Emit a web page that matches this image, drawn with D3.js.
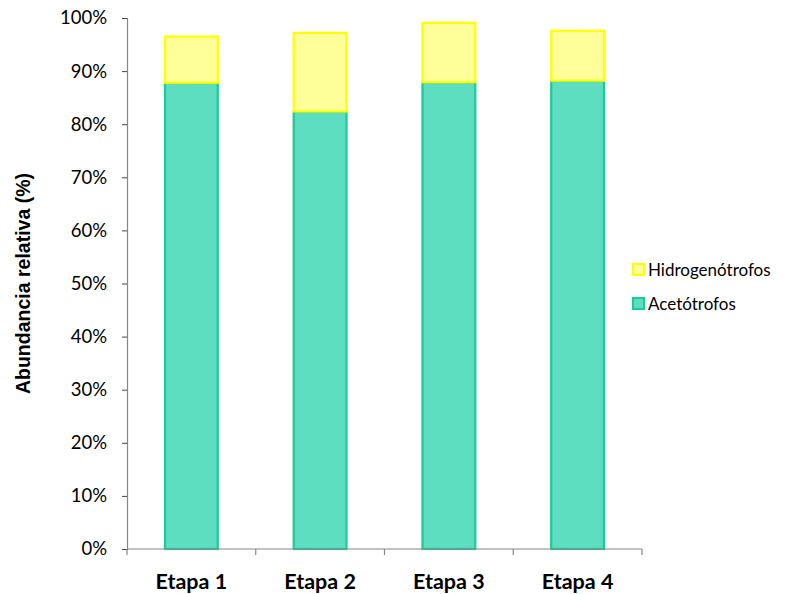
<!DOCTYPE html>
<html>
<head>
<meta charset="utf-8">
<script src="https://cdn.jsdelivr.net/npm/d3@7"></script>
<style>
  html, body { margin: 0; padding: 0; background: #fff; }
  svg { display: block; font-family: Lato, "Open Sans", sans-serif; }
</style>
</head>
<body>
<svg id="chart" width="802" height="594"></svg>
<script>
// Etapas del reactor y abundancia relativa (%) de cada grupo metanogénico
const etapas = ["Etapa 1", "Etapa 2", "Etapa 3", "Etapa 4"];
const acetotrofos = [87.8, 82.4, 87.9, 88.2];
const hidrogenotrofos = [8.7, 14.8, 11.2, 9.4];
const yTicks = [0, 10, 20, 30, 40, 50, 60, 70, 80, 90, 100];
const seriesNames = ["Acetótrofos", "Hidrogenótrofos"];
const fills = { "Acetótrofos": "#5EDEC0", "Hidrogenótrofos": "#FFFF99" };
const strokes = { "Acetótrofos": "#17CC95", "Hidrogenótrofos": "#FFFF00" };

const svg = d3.select("#chart");
const left = 127, right = 642;

const x = d3.scaleBand().domain(etapas).range([left, right]).paddingInner(0.59).paddingOuter(0.295);
const y = d3.scaleLinear().domain([0, 100]).range([549, 18]);

const rows = etapas.map((e, i) => ({ etapa: e, "Acetótrofos": acetotrofos[i], "Hidrogenótrofos": hidrogenotrofos[i] }));
const stacked = d3.stack().keys(seriesNames)(rows);

// Barras apiladas
svg.append("g").selectAll("g").data(stacked).join("g")
  .attr("fill", d => fills[d.key])
  .attr("stroke", d => strokes[d.key])
  .attr("stroke-width", 2.2)
  .selectAll("rect").data(d => d).join("rect")
  .attr("x", d => x(d.data.etapa))
  .attr("y", d => y(d[1]))
  .attr("width", x.bandwidth())
  .attr("height", d => y(d[0]) - y(d[1]));

// Eje Y
const yAxis = svg.append("g").attr("transform", `translate(${left},0)`)
  .call(d3.axisLeft(y).tickValues(yTicks).tickFormat(d => d + "%").tickSize(5).tickPadding(15));
yAxis.select(".domain").attr("stroke", "#868686").attr("stroke-width", 1.2);
yAxis.selectAll(".tick line").attr("stroke", "#444");
yAxis.selectAll("text").attr("font-size", 18.5).attr("fill", "#000")
  .attr("font-family", "Lato, 'Open Sans', sans-serif");

// Eje X con marcas en los límites de cada categoría
const xAxis = svg.append("g").attr("transform", `translate(0,${y(0)})`);
xAxis.append("line").attr("x1", left).attr("x2", right).attr("y1", 0).attr("y2", 0)
  .attr("stroke", "#868686").attr("stroke-width", 1.2);
const bounds = d3.range(etapas.length + 1).map(i => left + i * (right - left) / etapas.length);
xAxis.selectAll("line.tk").data(bounds).join("line").attr("class", "tk")
  .attr("x1", d => d).attr("x2", d => d).attr("y1", 0).attr("y2", 6)
  .attr("stroke", "#868686").attr("stroke-width", 1.2);
xAxis.selectAll("text").data(etapas).join("text")
  .attr("x", d => x(d) + x.bandwidth() / 2)
  .attr("y", 40)
  .attr("text-anchor", "middle")
  .attr("font-size", 21.5).attr("font-weight", "bold").attr("fill", "#000")
  .text(d => d);

// Título del eje Y
svg.append("text")
  .attr("transform", `translate(30,${(y(0) + y(100)) / 2}) rotate(-90)`)
  .attr("text-anchor", "middle")
  .style("font-family", "'Liberation Sans', Arial, sans-serif")
  .attr("font-size", 19.5).attr("font-weight", "bold").attr("fill", "#000")
  .text("Abundancia relativa (%)");

// Leyenda
const legendItems = ["Hidrogenótrofos", "Acetótrofos"];
const legend = svg.append("g").attr("transform", "translate(632,263)");
const li = legend.selectAll("g").data(legendItems).join("g")
  .attr("transform", (d, i) => `translate(0,${i * 34})`);
li.append("rect").attr("x", 1).attr("y", 1).attr("width", 11).attr("height", 11)
  .attr("fill", d => fills[d]).attr("stroke", d => strokes[d]).attr("stroke-width", 2);
li.append("text").attr("x", 16).attr("y", 13)
  .attr("font-size", 17).attr("fill", "#000").text(d => d);
</script>
</body>
</html>
